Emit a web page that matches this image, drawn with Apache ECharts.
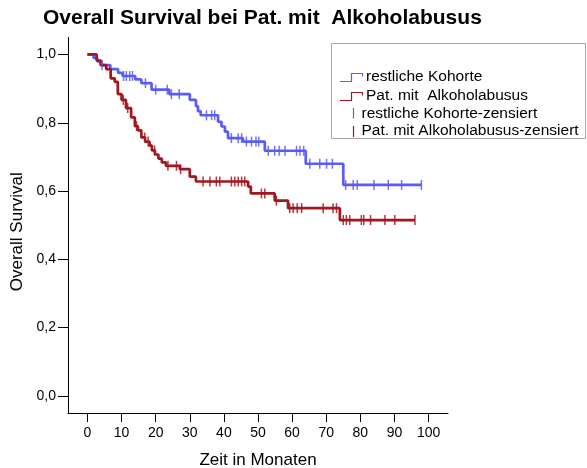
<!DOCTYPE html>
<html>
<head>
<meta charset="utf-8">
<script src="https://cdn.jsdelivr.net/npm/echarts@6/dist/echarts.min.js"></script>
<style>
  html, body { margin: 0; padding: 0; background: #fff; }
  #chart { width: 587px; height: 468px; }
</style>
</head>
<body>
<div id="chart"></div>
<script>
const FONT = '"Liberation Sans", Arial, Helvetica, sans-serif';

// Axis ticks
const xTicks = [0, 10, 20, 30, 40, 50, 60, 70, 80, 90, 100];
const yTicks = [0, 0.2, 0.4, 0.6, 0.8, 1.0];

// Kaplan-Meier estimate: restliche Kohorte (event times in months, survival after each event)
const restTimes = [0, 1.8, 2.9, 3.8, 6.7, 9.0, 10.3, 14.0, 15.8, 18.8, 24.0, 30.0, 31.8, 32.4, 33.2, 38.3, 39.3, 40.3, 41.2, 45.6, 52.0, 64.0, 75.0];
const restSurv  = [1.0, 0.99, 0.98, 0.969, 0.957, 0.946, 0.937, 0.927, 0.916, 0.897, 0.884, 0.867, 0.849, 0.834, 0.822, 0.803, 0.789, 0.774, 0.755, 0.745, 0.718, 0.68, 0.618];
const restEnd = 97.9;
const restCensored = [4.3, 10.6, 11.4, 12.4, 13.2, 17.0, 20.0, 23.4, 24.6, 26.9, 34.9, 36.4, 37.3, 42.2, 44.2, 45.2, 46.6, 48.1, 49.4, 50.2, 53.0, 54.9, 56.2, 57.9, 61.3, 62.3, 63.4, 65.2, 68.1, 70.1, 71.8, 75.7, 77.9, 79.1, 84.0, 88.2, 92.1, 97.9];

// Kaplan-Meier estimate: Pat. mit Alkoholabusus
const alkTimes = [0, 2.7, 4.0, 5.5, 6.8, 8.0, 8.9, 10.0, 11.3, 12.8, 13.9, 14.8, 15.8, 16.9, 18.2, 18.9, 19.8, 20.8, 21.8, 23.0, 27.1, 30.0, 31.8, 47.1, 47.9, 54.9, 58.8, 74.0];
const alkSurv  = [1.0, 0.982, 0.969, 0.957, 0.93, 0.92, 0.884, 0.867, 0.843, 0.816, 0.79, 0.778, 0.757, 0.745, 0.733, 0.719, 0.707, 0.695, 0.684, 0.674, 0.664, 0.642, 0.628, 0.613, 0.593, 0.572, 0.55, 0.515];
const alkEnd = 96.0;
const alkCensored = [10.5, 11.8, 14.4, 16.8, 17.8, 19.7, 23.6, 26.1, 27.3, 33.9, 35.9, 37.8, 38.8, 42.2, 43.2, 44.2, 45.2, 46.1, 51.0, 52.0, 55.4, 59.3, 60.3, 61.5, 62.8, 69.1, 72.0, 73.0, 75.0, 75.9, 76.9, 80.3, 81.0, 83.0, 87.2, 90.1, 96.0];

const BLUE = '#5a5cf4';
const RED = '#a3161e';

function stepPoints(times, surv, end) {
  const pts = times.map((t, i) => [t, surv[i]]);
  pts.push([end, surv[surv.length - 1]]);
  return pts;
}
function survAt(times, surv, t) {
  let s = surv[0];
  for (let i = 0; i < times.length; i++) {
    if (times[i] <= t) s = surv[i]; else break;
  }
  return s;
}
function censorPoints(times, surv, cens) {
  return cens.map(t => [t, survAt(times, surv, t)]);
}

const chart = echarts.init(document.getElementById('chart'), null, { renderer: 'canvas' });

const legendX = 331.5, legendY = 43.5;
const textStyleBase = { font: '15.5px ' + FONT, fill: '#000', verticalAlign: 'middle', textAlign: 'left' };

chart.setOption({
  animation: false,
  backgroundColor: '#fff',
  title: {
    text: 'Overall Survival bei Pat. mit  Alkoholabusus',
    left: 43,
    top: 8,
    padding: 0,
    textStyle: { fontFamily: FONT, fontSize: 21, fontWeight: 'bold', color: '#000' }
  },
  grid: { left: 68, top: 37.4, right: 139, bottom: 55, outerBoundsMode: 'none', containLabel: false },
  xAxis: {
    type: 'value',
    min: -5.7,
    max: 105.7,
    name: 'Zeit in Monaten',
    nameLocation: 'middle',
    nameGap: 39,
    nameTextStyle: { fontFamily: FONT, fontSize: 17, color: '#000' },
    axisLine: { onZero: false, lineStyle: { color: '#000', width: 1 } },
    axisTick: { show: true, length: 9, customValues: xTicks, lineStyle: { color: '#000' } },
    axisLabel: { customValues: xTicks, margin: 13, fontFamily: FONT, fontSize: 14, color: '#000' },
    splitLine: { show: false }
  },
  yAxis: {
    type: 'value',
    min: -0.05,
    max: 1.05,
    name: 'Overall Survival',
    nameLocation: 'middle',
    nameGap: 37,
    nameTextStyle: { fontFamily: FONT, fontSize: 17, color: '#000', padding: [0, 13, 0, 0] },
    axisLine: { onZero: false, lineStyle: { color: '#000', width: 1 } },
    axisTick: { show: true, length: 10, customValues: yTicks, lineStyle: { color: '#000' } },
    axisLabel: {
      customValues: yTicks, margin: 12, fontFamily: FONT, fontSize: 14, color: '#000',
      formatter: v => v.toFixed(1).replace('.', ',')
    },
    splitLine: { show: false }
  },
  series: [
    {
      name: 'restliche Kohorte', type: 'line', step: 'end', showSymbol: false,
      data: stepPoints(restTimes, restSurv, restEnd),
      lineStyle: { color: BLUE, width: 2.7 }, itemStyle: { color: BLUE }, z: 3
    },
    {
      name: 'Pat. mit  Alkoholabusus', type: 'line', step: 'end', showSymbol: false,
      data: stepPoints(alkTimes, alkSurv, alkEnd),
      lineStyle: { color: RED, width: 2.7 }, itemStyle: { color: RED }, z: 3
    },
    {
      name: 'restliche Kohorte-zensiert', type: 'scatter', symbol: 'rect', symbolSize: [1.5, 10],
      data: censorPoints(restTimes, restSurv, restCensored),
      itemStyle: { color: BLUE, opacity: 0.85 }, z: 4
    },
    {
      name: 'Pat. mit Alkoholabusus-zensiert', type: 'scatter', symbol: 'rect', symbolSize: [1.5, 10],
      data: censorPoints(alkTimes, alkSurv, alkCensored),
      itemStyle: { color: RED, opacity: 0.85 }, z: 4
    }
  ],
  graphic: [
    {
      type: 'rect', z: 10,
      shape: { x: legendX, y: legendY, width: 254, height: 95 },
      style: { fill: '#fff', stroke: '#a6a6a6', lineWidth: 1 }
    },
    {
      type: 'polyline', z: 11,
      shape: { points: [[340, 81.5], [351.5, 81.5], [351.5, 73.5], [362.5, 73.5], [362.5, 76.5]] },
      style: { stroke: BLUE, lineWidth: 1.2, fill: null }
    },
    {
      type: 'polyline', z: 11,
      shape: { points: [[340, 100.5], [351.5, 100.5], [351.5, 92.5], [362.5, 92.5], [362.5, 95.5]] },
      style: { stroke: RED, lineWidth: 1.2, fill: null }
    },
    {
      type: 'line', z: 11,
      shape: { x1: 353.5, y1: 108, x2: 353.5, y2: 118.5 },
      style: { stroke: BLUE, lineWidth: 1.2 }
    },
    {
      type: 'line', z: 11,
      shape: { x1: 353.5, y1: 126, x2: 353.5, y2: 137 },
      style: { stroke: RED, lineWidth: 1.2 }
    },
    { type: 'text', z: 11, style: Object.assign({ text: 'restliche Kohorte', x: 366, y: 76.5 }, textStyleBase) },
    { type: 'text', z: 11, style: Object.assign({ text: 'Pat. mit  Alkoholabusus', x: 366, y: 95.5 }, textStyleBase) },
    { type: 'text', z: 11, style: Object.assign({ text: 'restliche Kohorte-zensiert', x: 361.5, y: 113.5 }, textStyleBase) },
    { type: 'text', z: 11, style: Object.assign({ text: 'Pat. mit Alkoholabusus-zensiert', x: 361.5, y: 131 }, textStyleBase) }
  ]
});
</script>
</body>
</html>
